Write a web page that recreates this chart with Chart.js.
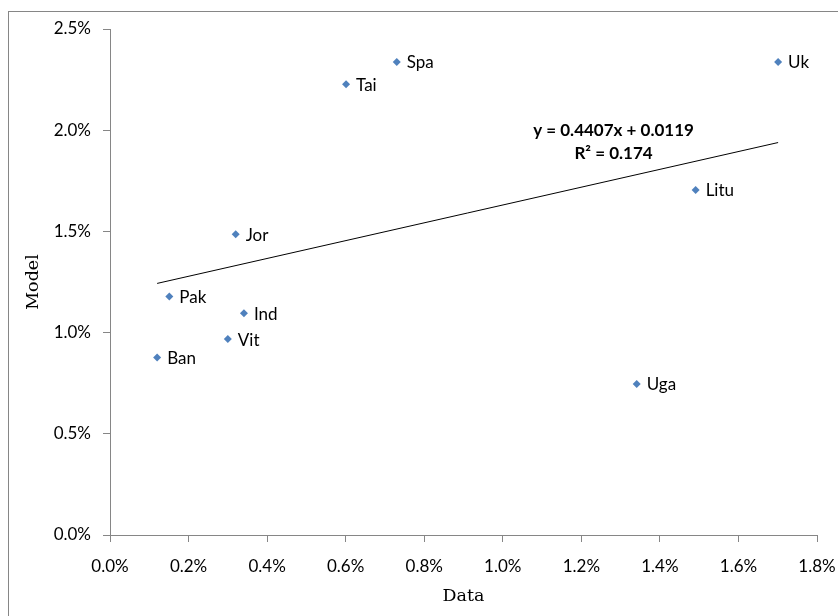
<!DOCTYPE html>
<html>
<head>
<meta charset="utf-8">
<script src="https://cdn.jsdelivr.net/npm/chart.js@4.4.1/dist/chart.umd.min.js"></script>
<style>
  html, body { margin: 0; padding: 0; background: #fff; }
  canvas { display: block; }
</style>
</head>
<body>
<canvas id="scatterChart" width="838" height="616"></canvas>
<script>
// datos (fracciones, no %)
const countries   = ['Spa', 'Tai', 'Uk', 'Litu', 'Jor', 'Pak', 'Ind', 'Vit', 'Ban', 'Uga'];
const dataValues  = [0.00730, 0.00601, 0.01701, 0.01491, 0.00320, 0.00151, 0.00341, 0.00300, 0.00120, 0.01341];
const modelValues = [0.02337, 0.02227, 0.02337, 0.01705, 0.01486, 0.01178, 0.01096, 0.00968, 0.00877, 0.00746];

// línea de tendencia (extremos leídos)
const trendX = [0.00120, 0.01701];
const trendY = [0.01243, 0.01939];
const equationLines = ['y = 0.4407x + 0.0119', 'R² = 0.174'];
const equationAt = { x: 0.01282, y: 0.02000 };

// ejes
const xAxisMax = 0.018, xAxisStep = 0.002;
const yAxisMax = 0.025, yAxisStep = 0.005;
const xAxisTitle = 'Data';
const yAxisTitle = 'Model';

const AXIS_GRAY = '#868686';
const MARKER_BLUE = '#4F81BD';
const SANS = "Lato, 'Open Sans', sans-serif";
const SERIF = "'DejaVu Serif', serif";

const pct = v => (v * 100).toFixed(1) + '%';

// marco exterior del área del gráfico
const framePlugin = {
    id: 'frame',
    beforeDraw(chart) {
        const ctx = chart.ctx;
        ctx.save();
        ctx.strokeStyle = AXIS_GRAY;
        ctx.lineWidth = 1;
        ctx.strokeRect(8.5, 11.5, 1000, 1000);
        ctx.restore();
    }
};

// etiquetas de cada punto
const pointLabelsPlugin = {
    id: 'pointLabels',
    afterDatasetsDraw(chart) {
        const meta = chart.getDatasetMeta(0);
        const ctx = chart.ctx;
        ctx.save();
        ctx.font = '17px ' + SANS;
        ctx.fillStyle = '#000';
        ctx.textAlign = 'left';
        ctx.textBaseline = 'middle';
        meta.data.forEach((pt, i) => {
            ctx.fillText(countries[i], pt.x + 10, pt.y + 1);
        });
        ctx.restore();
    }
};

// ecuación de la regresión
const equationPlugin = {
    id: 'equation',
    afterDraw(chart) {
        const ctx = chart.ctx;
        const x = chart.scales.x.getPixelForValue(equationAt.x);
        const y = chart.scales.y.getPixelForValue(equationAt.y);
        ctx.save();
        ctx.font = 'bold 17px ' + SANS;
        ctx.fillStyle = '#000';
        ctx.textAlign = 'center';
        ctx.textBaseline = 'middle';
        equationLines.forEach((line, i) => ctx.fillText(line, x, y + i * 23));
        ctx.restore();
    }
};

const ctx = document.getElementById('scatterChart').getContext('2d');
new Chart(ctx, {
    type: 'scatter',
    data: {
        datasets: [
            {
                label: 'Model vs Data',
                data: dataValues.map((v, i) => ({ x: v, y: modelValues[i] })),
                pointStyle: 'rectRot',
                pointRadius: 4,
                pointBackgroundColor: MARKER_BLUE,
                pointBorderColor: MARKER_BLUE,
                pointBorderWidth: 0,
                showLine: false
            },
            {
                label: 'Tendencia',
                type: 'line',
                data: trendX.map((v, i) => ({ x: v, y: trendY[i] })),
                borderColor: '#000',
                borderWidth: 1,
                pointRadius: 0,
                fill: false,
                tension: 0
            }
        ]
    },
    options: {
        responsive: false,
        animation: false,
        layout: { padding: { top: 29, right: 21, left: 0, bottom: 0 } },
        plugins: {
            legend: { display: false },
            tooltip: { enabled: false }
        },
        scales: {
            x: {
                type: 'linear',
                min: 0,
                max: xAxisMax,
                afterFit: s => {
                    s.height = 81;
                    s.paddingLeft = 0;
                    s.paddingRight = 0;
                },
                ticks: {
                    stepSize: xAxisStep,
                    callback: v => pct(v),
                    color: '#000',
                    font: { size: 17, family: SANS },
                    padding: 14,
                    maxRotation: 0
                },
                grid: { drawOnChartArea: false, drawTicks: true, tickLength: 7, color: AXIS_GRAY },
                border: { color: AXIS_GRAY },
                title: {
                    display: true,
                    text: xAxisTitle,
                    color: '#000',
                    font: { size: 17.5, family: SERIF },
                    padding: { top: 0, bottom: 9 }
                }
            },
            y: {
                type: 'linear',
                min: 0,
                max: yAxisMax,
                afterFit: s => {
                    s.width = 110;
                    s.paddingTop = 0;
                    s.paddingBottom = 0;
                },
                ticks: {
                    stepSize: yAxisStep,
                    callback: v => pct(v),
                    color: '#000',
                    font: { size: 17, family: SANS },
                    padding: 12
                },
                grid: { drawOnChartArea: false, drawTicks: true, tickLength: 7, color: AXIS_GRAY },
                border: { color: AXIS_GRAY },
                title: {
                    display: true,
                    text: yAxisTitle,
                    color: '#000',
                    font: { size: 17.5, family: SERIF },
                    padding: { top: 23, bottom: 0 }
                }
            }
        }
    },
    plugins: [framePlugin, pointLabelsPlugin, equationPlugin]
});
</script>
</body>
</html>
